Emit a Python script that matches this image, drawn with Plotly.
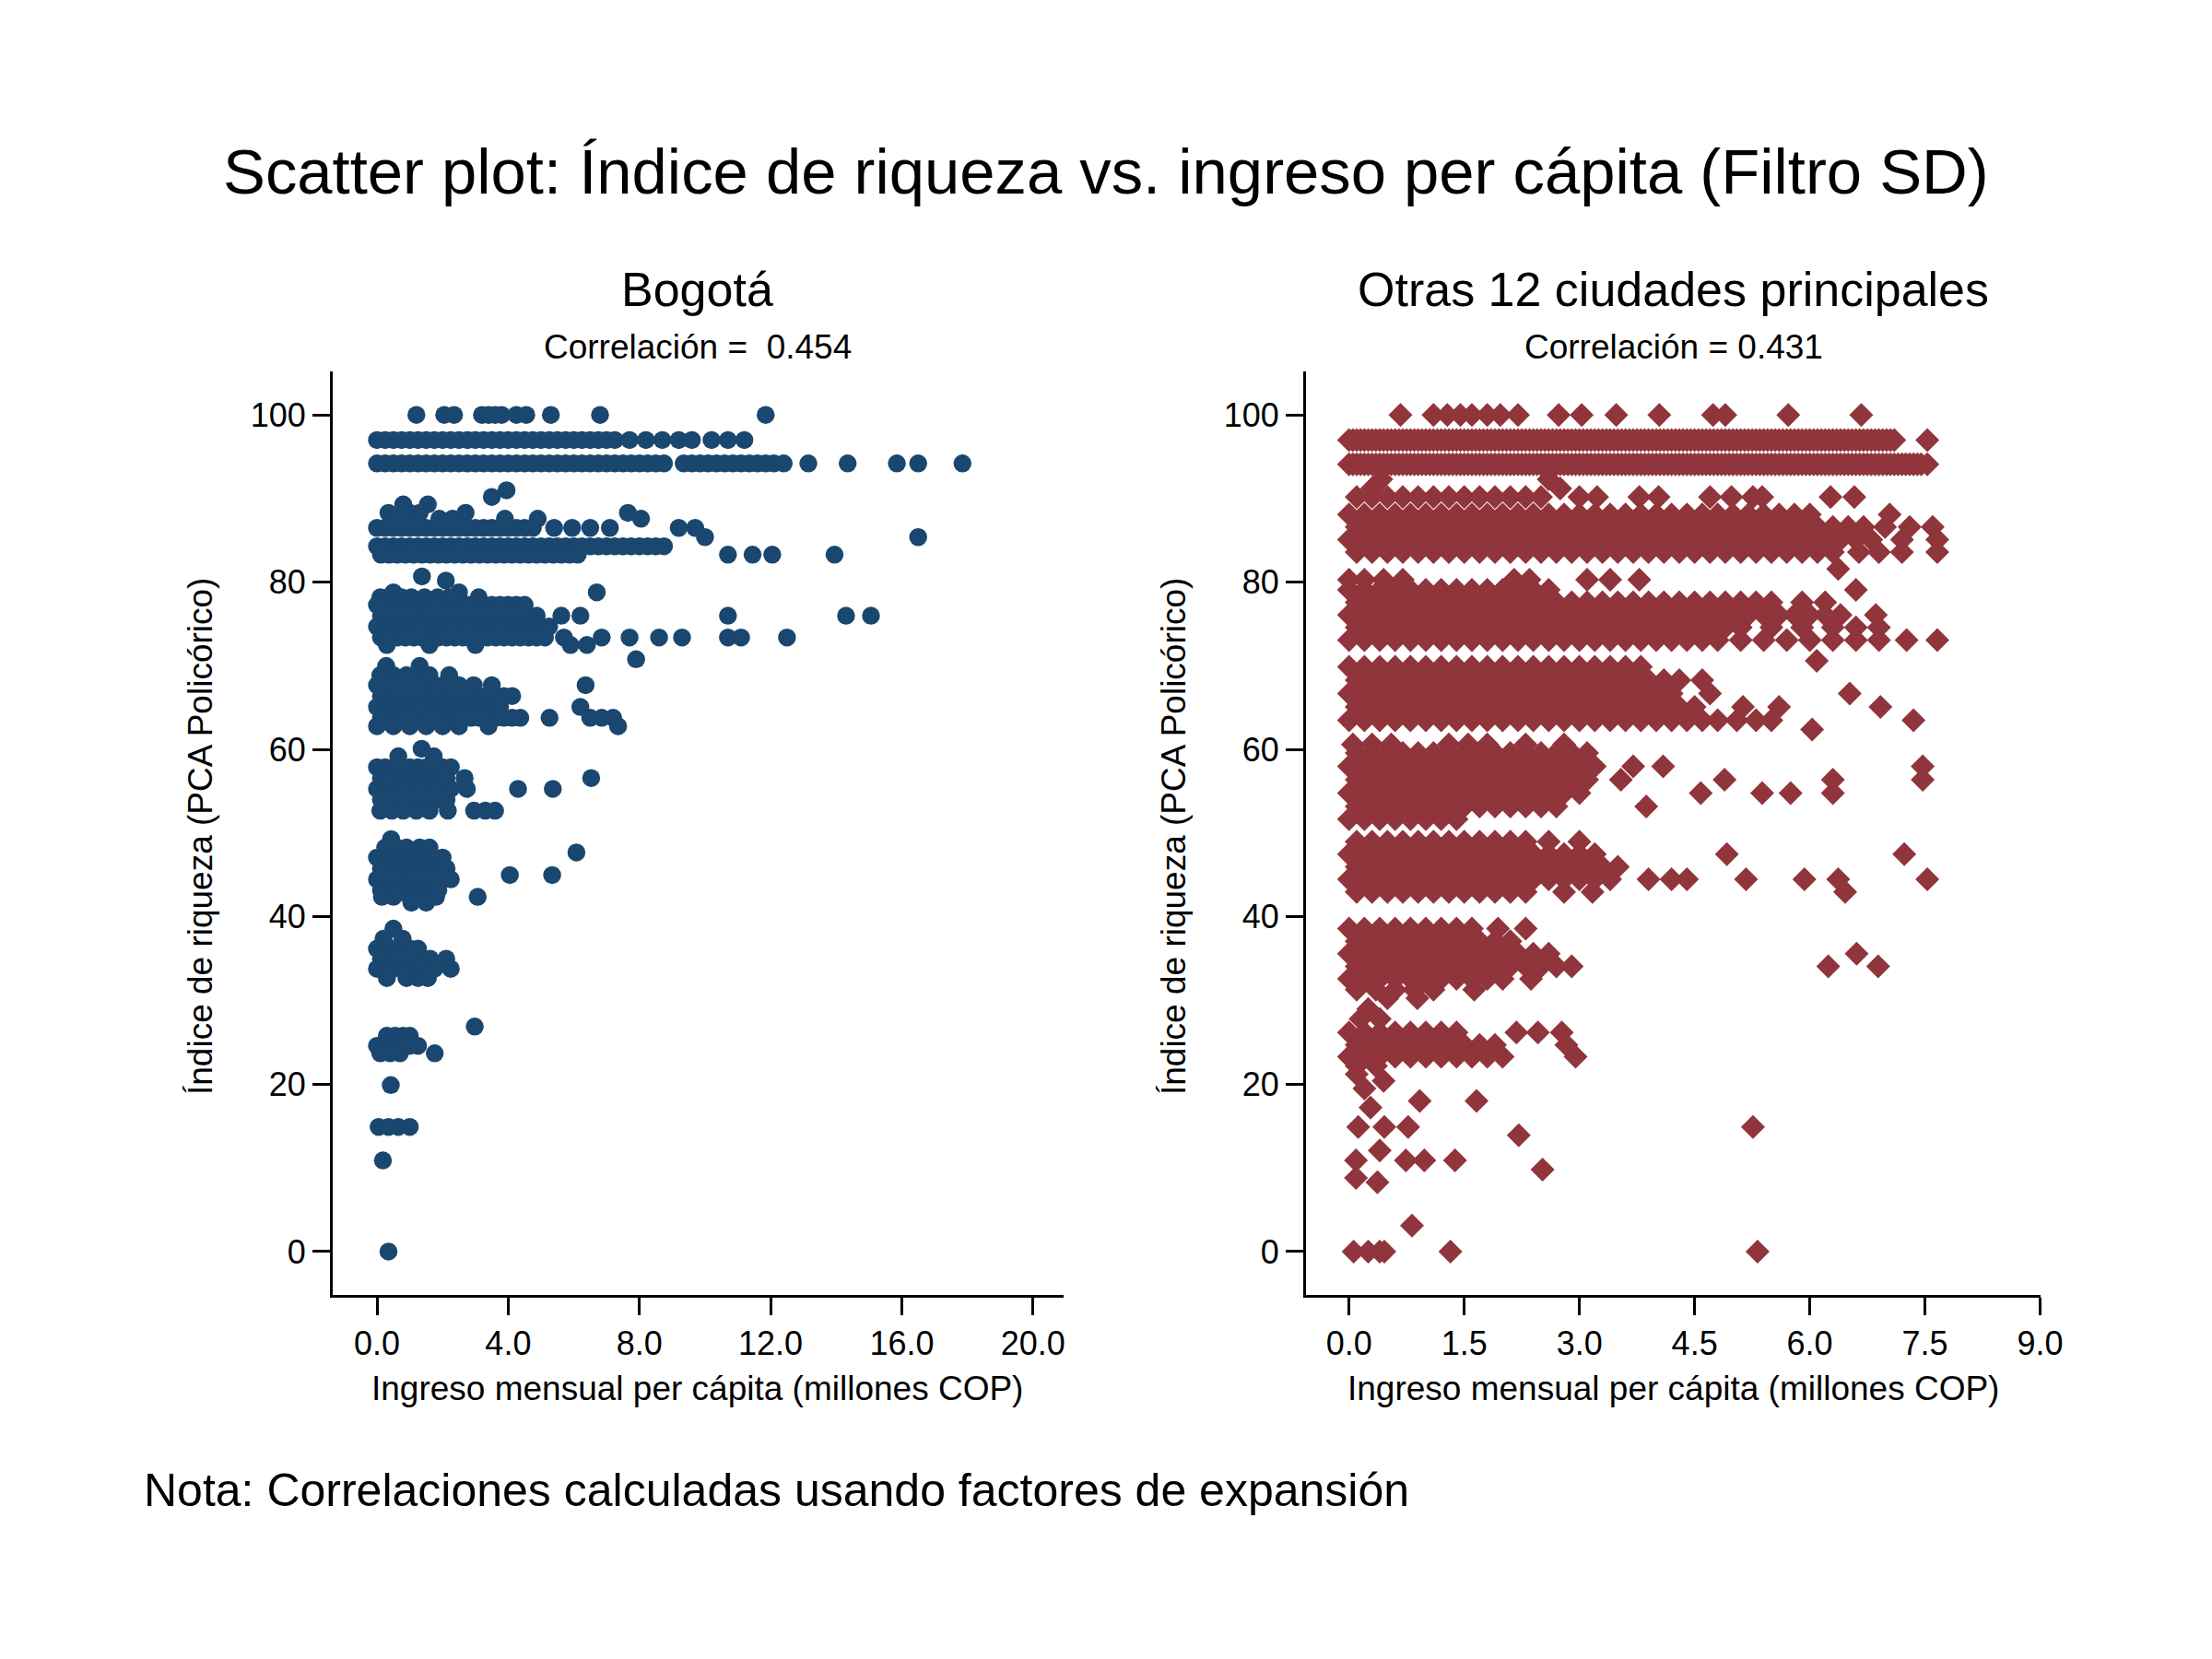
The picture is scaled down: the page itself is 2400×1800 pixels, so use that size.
import plotly.graph_objects as go

FONT = "Liberation Sans, Arial, Helvetica, sans-serif"
NAVY = "#1a476f"
MAROON = "#90353b"

BOG_TOP_Y = [100, 97.0, 94.2]
BOG_TOP_X = [
    [1.2, 2.05, 2.35, 3.2, 3.4, 3.6, 3.8, 4.25, 4.55, 5.3, 6.8, 11.85],
    [0.0, 0.25, 0.5, 0.75, 1.0, 1.25, 1.5, 1.75, 2.0, 2.25, 2.5, 2.75, 3.0, 3.25, 3.5, 3.75, 4.0,
     4.25, 4.5, 4.75, 5.0, 5.25, 5.5, 5.75, 6.0, 6.25, 6.5, 6.75, 7.0, 7.25,
     7.7, 8.2, 8.7, 9.2, 9.6, 10.2, 10.7, 11.2],
    [0.0, 0.25, 0.5, 0.75, 1.0, 1.25, 1.5, 1.75, 2.0, 2.25, 2.5, 2.75, 3.0, 3.25, 3.5, 3.75, 4.0,
     4.25, 4.5, 4.75, 5.0, 5.25, 5.5, 5.75, 6.0, 6.25, 6.5, 6.75, 7.0, 7.25, 7.5, 7.75, 8.0, 8.25,
     8.5, 8.75, 9.35, 9.6, 9.85, 10.1, 10.35, 10.6, 10.85, 11.1, 11.35, 11.6, 11.85, 12.1, 12.4,
     13.15, 14.35, 15.85, 16.5, 17.85],
]

BOG_85_Y = [91.0, 90.2, 89.3, 88.3, 87.6, 86.5, 85.4, 84.3, 83.3]
BOG_85_X = [
    [3.95],
    [3.5],
    [0.8, 1.55],
    [0.35, 1.0, 1.3, 2.7, 7.65],
    [0.55, 1.9, 2.3, 3.9, 4.9, 8.05],
    [0.0, 0.25, 0.5, 0.75, 1.0, 1.25, 1.5, 1.75, 2.0, 2.25, 2.5, 2.75, 3.0, 3.25, 3.5, 3.75, 4.0,
     4.25, 4.5, 4.75, 5.4, 5.95, 6.5, 7.1, 9.2, 9.7],
    [10.0, 16.5],
    [0.0, 0.25, 0.5, 0.75, 1.0, 1.25, 1.5, 1.75, 2.0, 2.25, 2.5, 2.75, 3.0, 3.25, 3.5, 3.75, 4.0,
     4.25, 4.5, 4.75, 5.0, 5.25, 5.5, 5.75, 6.0, 6.25, 6.5, 6.75, 7.0, 7.25, 7.5, 7.75, 8.0, 8.25,
     8.5, 8.75],
    [0.12, 0.37, 0.62, 0.87, 1.12, 1.37, 1.62, 1.87, 2.12, 2.37, 2.62, 2.87, 3.12, 3.37, 3.62, 3.87,
     4.12, 4.37, 4.62, 4.87, 5.12, 5.37, 5.62, 5.87, 6.12, 10.7, 11.45, 12.05, 13.95],
]

BOG_75_Y = [80.7, 80.2, 78.8, 78.2, 77.3, 76.0, 74.7, 73.4, 72.5, 70.8]
BOG_75_X = [
    [1.37],
    [2.1],
    [0.5, 2.5, 6.7],
    [0.1, 0.35, 0.75, 1.05, 1.45, 1.85, 2.2, 3.1],
    [0.0, 0.25, 0.5, 0.75, 1.0, 1.25, 1.5, 1.75, 2.0, 2.25, 2.5, 2.75, 3.0, 3.25, 3.5, 3.75, 4.0,
     4.25, 4.5],
    [0.12, 0.37, 0.62, 0.87, 1.12, 1.37, 1.62, 1.87, 2.12, 2.37, 2.62, 2.87, 3.12, 3.37, 3.62, 3.87,
     4.12, 4.37, 4.62, 4.87, 5.62, 6.2, 10.7, 14.3, 15.06],
    [0.0, 0.25, 0.5, 0.75, 1.0, 1.25, 1.5, 1.75, 2.0, 2.25, 2.5, 2.75, 3.0, 3.25, 3.5, 3.75, 4.0,
     4.25, 4.5, 4.75, 5.0, 5.25],
    [0.12, 0.37, 0.62, 0.87, 1.12, 1.37, 1.62, 1.87, 2.12, 2.37, 2.62, 2.87, 3.12, 3.37, 3.62, 3.87,
     4.12, 4.37, 4.62, 4.87, 5.12, 5.7, 6.85, 7.7, 8.6, 9.3, 10.7, 11.1, 12.5],
    [0.3, 1.6, 3.0, 5.9, 6.4],
    [7.9],
]

BOG_65_Y = [70.0, 68.9, 67.7, 66.4, 65.1, 63.8, 62.8]
BOG_65_X = [
    [0.28, 1.3],
    [0.1, 0.5, 0.9, 1.2, 1.6, 2.2],
    [0.0, 0.25, 0.5, 0.75, 1.0, 1.25, 1.5, 1.75, 2.0, 2.25, 2.5, 2.95, 3.5, 6.36],
    [0.12, 0.37, 0.62, 0.87, 1.12, 1.37, 1.62, 1.87, 2.12, 2.37, 2.62, 2.87, 3.12, 3.37, 3.62, 3.87,
     4.12],
    [0.0, 0.25, 0.5, 0.75, 1.0, 1.25, 1.5, 1.75, 2.0, 2.25, 2.5, 2.75, 3.0, 3.25, 3.5, 3.75, 6.2],
    [0.12, 0.37, 0.62, 0.87, 1.12, 1.37, 1.62, 1.87, 2.12, 2.37, 2.62, 2.87, 3.12, 3.37, 3.62, 3.87,
     4.12, 4.37, 5.26, 6.5, 6.85, 7.2],
    [0.0, 0.5, 1.0, 1.5, 2.0, 2.5, 3.4, 7.35],
]

BOG_55_Y = [60.1, 59.2, 57.9, 56.6, 55.3, 54.0, 52.7]
BOG_55_X = [
    [1.36],
    [0.65, 1.73],
    [0.0, 0.25, 0.5, 0.75, 1.0, 1.25, 1.5, 1.75, 2.0, 2.25],
    [0.12, 0.37, 0.62, 0.87, 1.12, 1.37, 1.62, 1.87, 2.12, 2.67, 6.53],
    [0.0, 0.25, 0.5, 0.75, 1.0, 1.25, 1.5, 1.75, 2.0, 2.25, 2.74, 4.3, 5.36],
    [0.12, 0.37, 0.62, 0.87, 1.12, 1.37, 1.62, 1.87, 2.12],
    [0.1, 0.45, 0.8, 1.2, 1.6, 2.16, 2.96, 3.3, 3.6],
]

BOG_45_Y = [49.3, 48.3, 47.7, 47.1, 45.8, 45.0, 44.5, 43.2, 42.4, 41.7]
BOG_45_X = [
    [0.43],
    [0.25, 0.6, 0.9, 1.3, 1.6],
    [6.08],
    [0.0, 0.25, 0.5, 0.75, 1.0, 1.25, 1.5, 1.75, 2.0],
    [0.12, 0.37, 0.62, 0.87, 1.12, 1.37, 1.62, 1.87, 2.12],
    [4.05, 5.34],
    [0.0, 0.25, 0.5, 0.75, 1.0, 1.25, 1.5, 1.75, 2.0, 2.25],
    [0.12, 0.37, 0.62, 0.87, 1.12, 1.37, 1.62, 1.87],
    [0.15, 0.5, 1.0, 1.4, 1.8, 3.07],
    [1.05, 1.5],
]

BOG_LOW_Y = [38.6, 37.4, 36.2, 35.0, 33.8, 32.7, 26.9, 25.8, 24.6, 23.7, 19.9, 14.9, 10.9, 0.0]
BOG_LOW_X = [
    [0.5],
    [0.2, 0.78],
    [0.0, 0.25, 0.5, 0.75, 1.0, 1.25],
    [0.12, 0.37, 0.62, 0.87, 1.12, 1.37, 1.62, 2.11],
    [0.0, 0.25, 0.5, 0.75, 1.0, 1.25, 1.5, 1.75, 2.25],
    [0.3, 0.9, 1.25, 1.55],
    [2.98],
    [0.3, 0.55, 0.8, 1.0],
    [0.0, 0.25, 0.5, 0.75, 1.0, 1.25],
    [0.1, 0.4, 0.7, 1.76],
    [0.42],
    [0.05, 0.35, 0.65, 1.0],
    [0.18],
    [0.35],
]

# ---------- Otras 12 ciudades principales ----------
OTR_TOP_Y = [100, 97.0, 97.0, 94.1, 94.1]
OTR_TOP_X = [
    [0.67, 1.1, 1.28, 1.45, 1.6, 1.8, 1.97, 2.2, 2.73, 3.03, 3.48, 4.04, 4.74, 4.9, 5.72, 6.67],
    [0.0, 0.1, 0.2, 0.3, 0.4, 0.5, 0.6, 0.7, 0.8, 0.9, 1.0, 1.1, 1.2, 1.3, 1.4, 1.5, 1.6, 1.7,
     1.8, 1.9, 2.0, 2.1, 2.2, 2.3, 2.4, 2.5, 2.6, 2.7, 2.8, 2.9, 3.0, 3.1, 3.2, 3.3, 3.4, 3.5,
     3.6, 3.7, 3.8, 3.9, 4.0, 4.1, 4.2, 4.3, 4.4, 4.5, 4.6, 4.7, 4.8, 4.9, 5.0, 5.1, 5.2, 5.3,
     5.4, 5.5, 5.6, 5.7, 5.8, 5.9, 6.0, 6.1, 6.2, 6.3, 6.4, 6.5, 6.6, 6.7, 6.8, 6.9, 7.0, 7.1,
     7.53],
    [0.05, 0.15, 0.25, 0.35, 0.45, 0.55, 0.65, 0.75, 0.85, 0.95, 1.05, 1.15, 1.25, 1.35, 1.45,
     1.55, 1.65, 1.75, 1.85, 1.95, 2.05, 2.15, 2.25, 2.35, 2.45, 2.55, 2.65, 2.75, 2.85, 2.95,
     3.05, 3.15, 3.25, 3.35, 3.45, 3.55, 3.65, 3.75, 3.85, 3.95, 4.05, 4.15, 4.25, 4.35, 4.45,
     4.55, 4.65, 4.75, 4.85, 4.95, 5.05, 5.15, 5.25, 5.35, 5.45, 5.55, 5.65, 5.75, 5.85, 5.95,
     6.05, 6.15, 6.25, 6.35, 6.45, 6.55, 6.65, 6.75, 6.85, 6.95, 7.05],
    [0.0, 0.1, 0.2, 0.3, 0.4, 0.5, 0.6, 0.7, 0.8, 0.9, 1.0, 1.1, 1.2, 1.3, 1.4, 1.5, 1.6, 1.7,
     1.8, 1.9, 2.0, 2.1, 2.2, 2.3, 2.4, 2.5, 2.6, 2.7, 2.8, 2.9, 3.0, 3.1, 3.2, 3.3, 3.4, 3.5,
     3.6, 3.7, 3.8, 3.9, 4.0, 4.1, 4.2, 4.3, 4.4, 4.5, 4.6, 4.7, 4.8, 4.9, 5.0, 5.1, 5.2, 5.3,
     5.4, 5.5, 5.6, 5.7, 5.8, 5.9, 6.0, 6.1, 6.2, 6.3, 6.4, 6.5, 6.6, 6.7, 6.8, 6.9, 7.0, 7.1,
     7.2, 7.3, 7.4, 7.53],
    [0.05, 0.15, 0.25, 0.35, 0.45, 0.55, 0.65, 0.75, 0.85, 0.95, 1.05, 1.15, 1.25, 1.35, 1.45,
     1.55, 1.65, 1.75, 1.85, 1.95, 2.05, 2.15, 2.25, 2.35, 2.45, 2.55, 2.65, 2.75, 2.85, 2.95,
     3.05, 3.15, 3.25, 3.35, 3.45, 3.55, 3.65, 3.75, 3.85, 3.95, 4.05, 4.15, 4.25, 4.35, 4.45,
     4.55, 4.65, 4.75, 4.85, 4.95, 5.05, 5.15, 5.25, 5.35, 5.45, 5.55, 5.65, 5.75, 5.85, 5.95,
     6.05, 6.15, 6.25, 6.35, 6.45, 6.55, 6.65, 6.75, 6.85, 6.95, 7.05, 7.15, 7.25, 7.35, 7.45],
]

OTR_85_Y = [92.3, 91.2, 90.2, 88.1, 86.6, 85.1, 83.6, 81.6]
OTR_85_X = [
    [0.42, 2.6],
    [0.3, 2.75],
    [0.1, 0.3, 0.5, 0.7, 0.9, 1.1, 1.3, 1.5, 1.7, 1.9, 2.1, 2.3, 2.5, 3.0, 3.23, 3.78, 4.03, 4.7,
     4.98, 5.26, 5.38, 6.27, 6.58],
    [0.0, 0.2, 0.4, 0.6, 0.8, 1.0, 1.2, 1.4, 1.6, 1.8, 2.0, 2.2, 2.4, 2.6, 2.8, 3.0, 3.2, 3.4,
     3.6, 3.8, 4.0, 4.2, 4.4, 4.6, 4.8, 5.0, 5.2, 5.4, 5.6, 5.8, 6.0, 7.04],
    [0.1, 0.3, 0.5, 0.7, 0.9, 1.1, 1.3, 1.5, 1.7, 1.9, 2.1, 2.3, 2.5, 2.7, 2.9, 3.1, 3.3, 3.5,
     3.7, 3.9, 4.1, 4.3, 4.5, 4.7, 4.9, 5.1, 5.3, 5.5, 5.7, 5.9, 6.1, 6.3, 6.5, 6.7, 6.98, 7.3,
     7.6],
    [0.0, 0.2, 0.4, 0.6, 0.8, 1.0, 1.2, 1.4, 1.6, 1.8, 2.0, 2.2, 2.4, 2.6, 2.8, 3.0, 3.2, 3.4,
     3.6, 3.8, 4.0, 4.2, 4.4, 4.6, 4.8, 5.0, 5.2, 5.4, 5.6, 5.8, 6.0, 6.2, 6.4, 6.6, 6.8, 7.2,
     7.66],
    [0.1, 0.3, 0.5, 0.7, 0.9, 1.1, 1.3, 1.5, 1.7, 1.9, 2.1, 2.3, 2.5, 2.7, 2.9, 3.1, 3.3, 3.5,
     3.7, 3.9, 4.1, 4.3, 4.5, 4.7, 4.9, 5.1, 5.3, 5.5, 5.7, 5.9, 6.1, 6.3, 6.64, 6.9, 7.2, 7.66],
    [6.37],
]

OTR_75_Y = [80.3, 79.1, 77.6, 76.1, 74.6, 73.1, 70.6]
OTR_75_X = [
    [0.0, 0.2, 0.45, 0.7, 2.15, 2.35, 3.1, 3.4, 3.78],
    [0.0, 0.2, 0.4, 0.6, 0.8, 1.0, 1.2, 1.4, 1.6, 1.8, 2.0, 2.2, 2.4, 2.6, 6.6],
    [0.1, 0.3, 0.5, 0.7, 0.9, 1.1, 1.3, 1.5, 1.7, 1.9, 2.1, 2.3, 2.5, 2.7, 2.9, 3.1, 3.3, 3.5,
     3.7, 3.9, 4.1, 4.3, 4.5, 4.7, 4.9, 5.1, 5.3, 5.5, 5.9, 6.2],
    [0.0, 0.2, 0.4, 0.6, 0.8, 1.0, 1.2, 1.4, 1.6, 1.8, 2.0, 2.2, 2.4, 2.6, 2.8, 3.0, 3.2, 3.4,
     3.6, 3.8, 4.0, 4.2, 4.4, 4.6, 4.8, 5.0, 5.2, 5.4, 5.6, 5.8, 6.0, 6.2, 6.4, 6.86],
    [0.1, 0.3, 0.5, 0.7, 0.9, 1.1, 1.3, 1.5, 1.7, 1.9, 2.1, 2.3, 2.5, 2.7, 2.9, 3.1, 3.3, 3.5,
     3.7, 3.9, 4.1, 4.3, 4.5, 4.7, 4.9, 5.1, 5.5, 5.9, 6.3, 6.6, 6.9],
    [0.0, 0.2, 0.4, 0.6, 0.8, 1.0, 1.2, 1.4, 1.6, 1.8, 2.0, 2.2, 2.4, 2.6, 2.8, 3.0, 3.2, 3.4,
     3.6, 3.8, 4.0, 4.2, 4.4, 4.6, 4.8, 5.1, 5.4, 5.7, 6.0, 6.3, 6.6, 6.9, 7.26, 7.66],
    [6.09],
]

OTR_65_Y = [69.9, 68.3, 66.7, 65.1, 63.5, 62.4]
OTR_65_X = [
    [0.0, 0.2, 0.4, 0.6, 0.8, 1.0, 1.2, 1.4, 1.6, 1.8, 2.0, 2.2, 2.4, 2.6, 2.8, 3.0, 3.2, 3.4,
     3.6, 3.8],
    [0.1, 0.3, 0.5, 0.7, 0.9, 1.1, 1.3, 1.5, 1.7, 1.9, 2.1, 2.3, 2.5, 2.7, 2.9, 3.1, 3.3, 3.5,
     3.7, 3.9, 4.1, 4.3, 4.6],
    [0.0, 0.2, 0.4, 0.6, 0.8, 1.0, 1.2, 1.4, 1.6, 1.8, 2.0, 2.2, 2.4, 2.6, 2.8, 3.0, 3.2, 3.4,
     3.6, 3.8, 4.0, 4.2, 4.7, 6.52],
    [0.1, 0.3, 0.5, 0.7, 0.9, 1.1, 1.3, 1.5, 1.7, 1.9, 2.1, 2.3, 2.5, 2.7, 2.9, 3.1, 3.3, 3.5,
     3.7, 3.9, 4.1, 4.3, 4.5, 5.13, 5.6, 6.92],
    [0.0, 0.2, 0.4, 0.6, 0.8, 1.0, 1.2, 1.4, 1.6, 1.8, 2.0, 2.2, 2.4, 2.6, 2.8, 3.0, 3.2, 3.4,
     3.6, 3.8, 4.0, 4.2, 4.4, 4.6, 4.8, 5.05, 5.3, 5.5, 7.35],
    [6.03],
]

OTR_55_Y = [60.6, 59.6, 58.0, 56.4, 54.8, 53.2, 51.7]
OTR_55_X = [
    [0.05, 0.3, 0.55, 1.3, 1.55, 1.8, 2.3, 2.8],
    [0.1, 0.3, 0.5, 0.7, 0.9, 1.1, 1.3, 1.5, 1.7, 1.9, 2.1, 2.3, 2.5, 2.7, 2.9, 3.1],
    [0.0, 0.2, 0.4, 0.6, 0.8, 1.0, 1.2, 1.4, 1.6, 1.8, 2.0, 2.2, 2.4, 2.6, 2.8, 3.0, 3.2, 3.7,
     4.09, 7.47],
    [0.1, 0.3, 0.5, 0.7, 0.9, 1.1, 1.3, 1.5, 1.7, 1.9, 2.1, 2.3, 2.5, 2.7, 2.9, 3.1, 3.54, 4.89,
     6.3, 7.47],
    [0.0, 0.2, 0.4, 0.6, 0.8, 1.0, 1.2, 1.4, 1.6, 1.8, 2.0, 2.2, 2.4, 2.6, 2.8, 3.0, 4.58, 5.38,
     5.75, 6.3],
    [0.1, 0.3, 0.5, 0.7, 0.9, 1.1, 1.3, 1.5, 1.7, 1.9, 2.1, 2.3, 2.5, 2.7, 3.87],
    [0.0, 0.2, 0.4, 0.6, 0.8, 1.0, 1.2, 1.4],
]

OTR_45_Y = [49.0, 47.5, 46.0, 44.5, 43.0]
OTR_45_X = [
    [0.1, 0.3, 0.5, 0.7, 0.9, 1.1, 1.3, 1.5, 1.7, 1.9, 2.1, 2.3, 2.6, 3.0],
    [0.0, 0.2, 0.4, 0.6, 0.8, 1.0, 1.2, 1.4, 1.6, 1.8, 2.0, 2.2, 2.4, 2.6, 2.8, 3.0, 3.2, 4.92,
     7.23],
    [0.1, 0.3, 0.5, 0.7, 0.9, 1.1, 1.3, 1.5, 1.7, 1.9, 2.1, 2.3, 2.5, 2.7, 2.9, 3.1, 3.3, 3.5],
    [0.0, 0.2, 0.4, 0.6, 0.8, 1.0, 1.2, 1.4, 1.6, 1.8, 2.0, 2.2, 2.4, 2.6, 2.8, 3.0, 3.2, 3.4,
     3.9, 4.2, 4.4, 5.17, 5.93, 6.37, 7.53],
    [0.1, 0.3, 0.5, 0.7, 0.9, 1.1, 1.3, 1.5, 1.7, 1.9, 2.1, 2.3, 2.8, 3.17, 6.46],
]

OTR_35_Y = [38.6, 37.1, 35.6, 34.1, 32.6, 31.3, 30.3]
OTR_35_X = [
    [0.0, 0.2, 0.4, 0.6, 0.8, 1.0, 1.2, 1.4, 1.6, 1.94, 2.3],
    [0.1, 0.3, 0.5, 0.7, 0.9, 1.1, 1.3, 1.5, 1.7, 1.9, 2.1],
    [0.0, 0.2, 0.4, 0.6, 0.8, 1.0, 1.2, 1.4, 1.6, 1.8, 2.0, 2.2, 2.4, 2.6, 6.61],
    [0.1, 0.3, 0.5, 0.7, 0.9, 1.1, 1.3, 1.5, 1.7, 1.9, 2.1, 2.3, 2.5, 2.7, 2.9, 6.24, 6.89],
    [0.0, 0.2, 0.4, 0.6, 0.8, 1.0, 1.2, 1.4, 1.6, 1.8, 2.0, 2.37],
    [0.1, 0.35, 0.6, 0.85, 1.1, 1.63],
    [0.5, 0.89],
]

OTR_25_Y = [29.0, 27.8, 26.2, 24.7, 23.3, 22.2]
OTR_25_X = [
    [0.25],
    [0.15, 0.4],
    [0.0, 0.2, 0.4, 0.6, 0.8, 1.0, 1.2, 1.4, 2.18, 2.46, 2.77],
    [0.1, 0.3, 0.5, 0.7, 0.9, 1.1, 1.3, 1.5, 1.7, 1.9, 2.83],
    [0.0, 0.2, 0.4, 0.6, 0.8, 1.0, 1.2, 1.4, 1.6, 1.8, 2.0, 2.95],
    [0.1, 0.35],
]

OTR_LOW_Y = [21.2, 20.4, 19.5, 18.0, 17.2, 14.9, 13.9, 12.1, 10.9, 9.8, 8.8, 8.3, 3.1, 0.0]
OTR_LOW_X = [
    [0.1],
    [0.45],
    [0.2],
    [0.92, 1.66],
    [0.28],
    [0.12, 0.46, 0.77, 5.26],
    [2.21],
    [0.4],
    [0.09, 0.74, 0.98, 1.38],
    [2.52],
    [0.09],
    [0.37],
    [0.82],
    [0.06, 0.25, 0.4, 0.46, 1.32, 5.32],
]

BOG_TICKS = [0, 4, 8, 12, 16, 20]
OTR_TICKS = [0, 1.5, 3.0, 4.5, 6.0, 7.5, 9.0]
Y_TICKS = [0, 20, 40, 60, 80, 100]


def expand(groups):
    """Aplana filas (nivel, [x...]) en dos listas x, y."""
    xs, ys = [], []
    for levels, rows in groups:
        for lv, row in zip(levels, rows):
            xs += row
            ys += [lv] * len(row)
    return xs, ys


bog_x, bog_y = expand([(BOG_TOP_Y, BOG_TOP_X), (BOG_85_Y, BOG_85_X), (BOG_75_Y, BOG_75_X),
                       (BOG_65_Y, BOG_65_X), (BOG_55_Y, BOG_55_X), (BOG_45_Y, BOG_45_X),
                       (BOG_LOW_Y, BOG_LOW_X)])
otr_x, otr_y = expand([(OTR_TOP_Y, OTR_TOP_X), (OTR_85_Y, OTR_85_X), (OTR_75_Y, OTR_75_X),
                       (OTR_65_Y, OTR_65_X), (OTR_55_Y, OTR_55_X), (OTR_45_Y, OTR_45_X),
                       (OTR_35_Y, OTR_35_X), (OTR_25_Y, OTR_25_X), (OTR_LOW_Y, OTR_LOW_X)])

fig = go.Figure()
fig.add_trace(go.Scatter(x=bog_x, y=bog_y, mode="markers", name="Bogotá", xaxis="x", yaxis="y",
                         marker=dict(symbol="circle", size=19.5, color=NAVY, line=dict(width=0))))
fig.add_trace(go.Scatter(x=otr_x, y=otr_y, mode="markers", name="Otras 12 ciudades",
                         xaxis="x2", yaxis="y2",
                         marker=dict(symbol="diamond", size=20, color=MAROON, line=dict(width=0))))

AX = dict(showline=True, linecolor="black", linewidth=3, ticks="outside", ticklen=19,
          tickwidth=3, tickcolor="black", showgrid=False, zeroline=False,
          tickfont=dict(family=FONT, size=36, color="black"))

fig.update_layout(
    width=2400, height=1800,
    paper_bgcolor="white", plot_bgcolor="white",
    margin=dict(l=361, r=186, t=403, b=395),
    showlegend=False,
    font=dict(family=FONT, color="black"),
    xaxis=dict(AX, domain=[0, 0.4277], range=[-1.35, 20.92], tickvals=BOG_TICKS,
               tickformat=".1f", anchor="y", ticklabelstandoff=0),
    yaxis=dict(AX, domain=[0, 1], range=[-5.18, 105.2], tickvals=Y_TICKS, anchor="x",
               ticklabelstandoff=0),
    xaxis2=dict(AX, domain=[0.5699, 1], range=[-0.56, 9.005], tickvals=OTR_TICKS,
                tickformat=".1f", anchor="y2", ticklabelstandoff=0),
    yaxis2=dict(AX, domain=[0, 1], range=[-5.18, 105.2], tickvals=Y_TICKS, anchor="x2",
                ticklabelstandoff=0),
)

ann = dict(xref="paper", yref="paper", showarrow=False, yanchor="middle")
texts = [
    ("Scatter plot: Índice de riqueza vs. ingreso per cápita (Filtro SD)", 0.4528, 1.2156, 68.8, "center", 0),
    ("Bogotá", 0.2137, 1.0888, 52, "center", 0),
    ("Otras 12 ciudades principales", 0.7850, 1.0888, 52, "center", 0),
    ("Correlación =\u00a0 0.454", 0.2137, 1.0263, 37, "center", 0),
    ("Correlación = 0.431", 0.7850, 1.0263, 37, "center", 0),
    ("Ingreso mensual per cápita (millones COP)", 0.2137, -0.1016, 37, "center", 0),
    ("Ingreso mensual per cápita (millones COP)", 0.7850, -0.1016, 37, "center", 0),
    ("Índice de riqueza (PCA Policórico)", -0.0777, 0.496, 37, "center", -90),
    ("Índice de riqueza (PCA Policórico)", 0.4922, 0.496, 37, "center", -90),
    ("Nota: Correlaciones calculadas usando factores de expansión", -0.1117, -0.2116, 50, "left", 0),
]
for t, x, y, size, xa, ang in texts:
    fig.add_annotation(ann, text=t, x=x, y=y, xanchor=xa, textangle=ang,
                       font=dict(family=FONT, size=size, color="black"))

fig.write_html("out.html", config={"displayModeBar": False},
               post_script="document.body.style.margin='0';")
